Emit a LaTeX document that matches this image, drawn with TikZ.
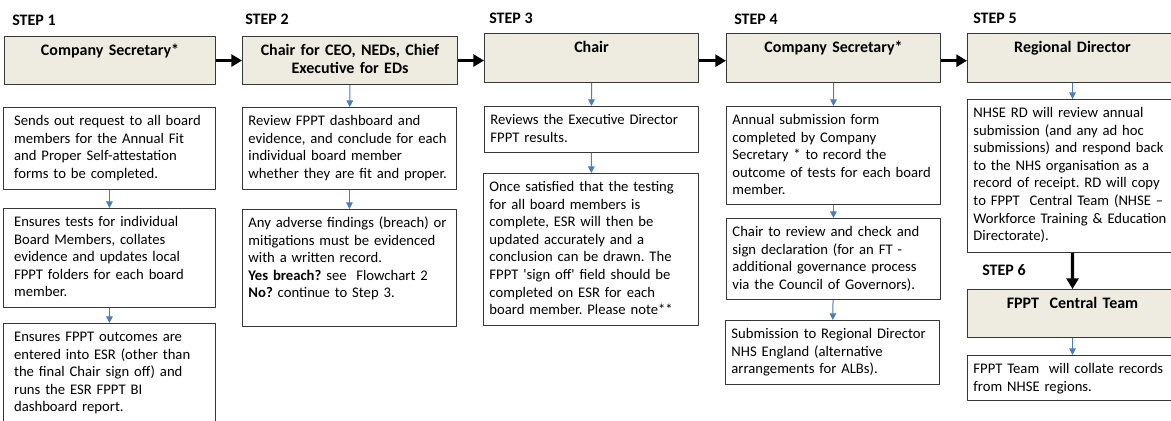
\documentclass[tikz,border=0pt]{standalone}
\usepackage{fontspec}
\newfontfamily\calibri{Carlito}
\usetikzlibrary{arrows.meta}
\definecolor{headfill}{RGB}{238,236,225}
\definecolor{boxline}{RGB}{55,55,55}
\definecolor{linkblue}{RGB}{74,126,187}
\begin{document}
\frenchspacing
\begin{tikzpicture}[x=0.75pt,y=-0.75pt, line join=round,
    steplabel/.style={anchor=base west, inner sep=0pt, font=\calibri\fontsize{12}{14}\selectfont\bfseries},
    headbox/.style 2 args={draw=boxline, fill=headfill, line width=0.8pt, anchor=north west, align=center,
        font=\calibri\fontsize{12}{13.5}\selectfont\bfseries, inner xsep=4pt, inner ysep=5pt,
        text width={#1*0.75pt-8pt}, text height=9pt, text depth={#2*0.75pt-19pt}},
    textbox/.style 2 args={draw=boxline, line width=0.7pt, anchor=north west, align=left,
        font=\calibri\fontsize{11}{13.2}\selectfont\frenchspacing, inner xsep=4.5pt, inner ysep=5pt,
        text width={#1*0.75pt-9pt}, text height=8.5pt, text depth={#2*0.75pt-18.5pt}},
    bluelink/.style={draw=linkblue, line width=0.75pt, -{Triangle[width=5pt,length=5pt]}},
    blacklink/.style={draw=black, line width=2.3pt, -{Triangle[width=9pt,length=8pt]}}]
    \useasboundingbox (0,0) rectangle (1171,421);
    % step titles
    \node[steplabel] (s1) at (12,25) {STEP 1};
    \node[steplabel] (s2) at (245,24) {STEP 2};
    \node[steplabel] (s3) at (489,23) {STEP 3};
    \node[steplabel] (s4) at (734,24) {STEP 4};
    \node[steplabel] (s5) at (973,23) {STEP 5};
    \node[steplabel] (s6) at (982,275) {STEP 6};
    % step 1
    \node[headbox={211}{48}] (cs1) at (4,36) {Company Secretary*};
    \node[textbox={212}{82}, inner xsep=8pt, text width=143pt] (send) at (3,107) {Sends out request to all board\\members for the Annual Fit\\and Proper Self-attestation\\forms to be completed.};
    \node[textbox={212}{99}, inner xsep=8pt, text width=143pt] (tests) at (3,208) {Ensures tests for individual\\Board Members, collates\\evidence and updates local\\FPPT folders for each board\\member.};
    \node[textbox={212}{101}, inner xsep=8pt, text width=143pt] (outcomes) at (3,323) {Ensures FPPT outcomes are\\entered into ESR (other than\\the final Chair sign off) and\\runs the ESR FPPT BI\\dashboard report.};
    % step 2
    \node[headbox={215}{48}] (chair2) at (242,36) {Chair for CEO, NEDs, Chief\\Executive for EDs};
    \node[textbox={214}{82}] (review) at (242,107) {Review FPPT dashboard and\\evidence, and conclude for each\\individual board member\\whether they are fit and proper.};
    \node[textbox={214}{117}] (adverse) at (242,209) {Any adverse findings (breach) or\\mitigations must be evidenced\\with a written record.\\\textbf{Yes breach?} see~ Flowchart 2\\\textbf{No?} continue to Step 3.};
    % step 3
    \node[headbox={214}{49}] (chair3) at (484,33) {Chair};
    \node[textbox={214}{46}] (execrev) at (484,106) {Reviews the Executive Director\\FPPT results.};
    \node[textbox={215}{152}] (signoff) at (483,173) {Once satisfied that the testing\\for all board members is\\complete, ESR will then be\\updated accurately and a\\conclusion can be drawn. The\\FPPT 'sign off' field should be\\completed on ESR for each\\board member. Please note**};
    % step 4
    \node[headbox={214}{49}] (cs4) at (726,33) {Company Secretary*};
    \node[textbox={214}{98}] (annual) at (726,106) {Annual submission form\\completed by Company\\Secretary * to record the\\outcome of tests for each board\\member.};
    \node[textbox={214}{81}] (declare) at (726,218) {Chair to review and check and\\sign declaration (for an FT -\\additional governance process\\via the Council of Governors).};
    \node[textbox={214}{64}] (submit) at (725,320) {Submission to Regional Director\\NHS England (alternative\\arrangements for ALBs).};
    % step 5 and 6
    \node[headbox={210}{49}] (rd5) at (967,33) {Regional Director};
    \node[textbox={210}{153}] (nhserd) at (967,99) {NHSE RD will review annual\\submission (and any ad hoc\\submissions) and respond back\\to the NHS organisation as a\\record of receipt. RD will copy\\to FPPT~ Central Team (NHSE –\\Workforce Training \& Education\\Directorate).};
    \node[headbox={210}{48}] (team6) at (967,289) {FPPT~ Central Team};
    \node[textbox={210}{45}] (collate) at (967,355) {FPPT Team~ will collate records\\from NHSE regions.};
    % links
    \draw[blacklink] (cs1.east) -- (cs1.east -| chair2.west);
    \draw[blacklink] (chair2.east) -- (chair2.east -| chair3.west);
    \draw[blacklink] ([yshift=-2pt]chair3.east) -- ([yshift=-2pt]chair3.east -| cs4.west);
    \draw[blacklink] ([yshift=-2pt]cs4.east) -- ([yshift=-2pt]cs4.east -| rd5.west);
    \draw[blacklink] (nhserd.south) -- (team6.north);
    \draw[bluelink] (send) -- (tests);
    \draw[bluelink] (tests) -- (outcomes);
    \draw[bluelink] (chair2) -- (review);
    \draw[bluelink] (review) -- (adverse);
    \draw[bluelink] (chair3) -- (execrev);
    \draw[bluelink] (execrev) -- (signoff);
    \draw[bluelink] (cs4) -- (annual);
    \draw[bluelink] (annual) -- (declare);
    \draw[bluelink] (declare) -- (submit);
    \draw[bluelink] (rd5) -- (nhserd);
    \draw[bluelink] (team6) -- (collate);
\end{tikzpicture}
\end{document}
